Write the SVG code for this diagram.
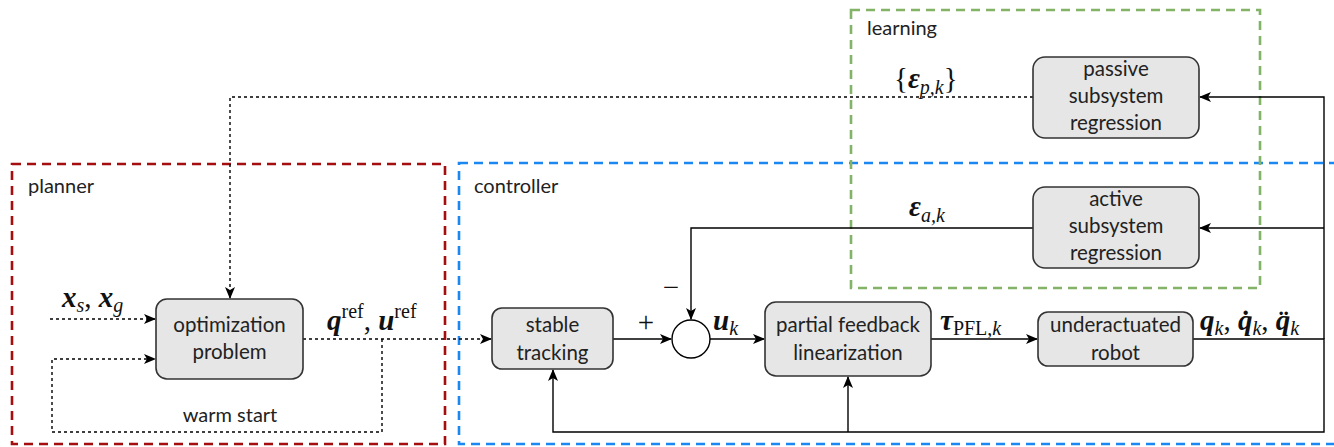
<svg xmlns="http://www.w3.org/2000/svg" width="1334" height="447" viewBox="0 0 1334 447">
<defs>
<marker id="arr" viewBox="0 0 12 10" refX="11" refY="5" markerWidth="12" markerHeight="10" markerUnits="userSpaceOnUse" orient="auto">
<path d="M0,0 L12,5 L0,10 L3,5 z" fill="#000"/>
</marker>
<style>
.box{fill:#e6e6e6;stroke:#333;stroke-width:1.6}
.t{font-family:Lato,"Open Sans","Liberation Sans",sans-serif;font-size:20.5px;fill:#222;text-anchor:middle}
.lbl{font-family:Lato,"Open Sans","Liberation Sans",sans-serif;font-size:20px;fill:#222}
.m{font-family:"Liberation Serif","DejaVu Serif",serif;font-size:29px;fill:#111}
.mb{font-weight:bold;font-style:italic}
.mi{font-style:italic}
.s{font-size:20px}
.c{fill:none;stroke:#000;stroke-width:1.4}
.d{fill:none;stroke:#000;stroke-width:1.4;stroke-dasharray:3 3}
.grp{fill:none;stroke-width:2.6;stroke-dasharray:9 6}
</style>
</defs>

<g id="groups">
<rect id="planner" class="grp" x="12" y="164" width="433" height="280" stroke="#a50e0e"/>
<rect id="controller" class="grp" x="459" y="163" width="890" height="281" stroke="#1a88f0"/>
<rect id="learning" class="grp" x="851" y="10" width="409" height="278" stroke="#82b366" stroke-width="2.2"/>
<text class="lbl" x="28" y="193">planner</text>
<text class="lbl" x="474" y="193">controller</text>
<text class="lbl" x="867" y="35">learning</text>
</g>

<g id="connectors">
<path class="d" d="M1033,97 H230 V298" marker-end="url(#arr)"/>
<path class="d" d="M50,319 H155" marker-end="url(#arr)"/>
<path class="d" d="M382,339 V432 H52 V359 H155" marker-end="url(#arr)"/>
<path class="d" d="M303,339 H491" marker-end="url(#arr)"/>
<path class="c" d="M613,339 H671" marker-end="url(#arr)"/>
<path class="c" d="M710,339 H764" marker-end="url(#arr)"/>
<path class="c" d="M931,339 H1037" marker-end="url(#arr)"/>
<path class="c" d="M1193,339 H1324 V432 H553 V370" marker-end="url(#arr)"/>
<path class="c" d="M848,432 V377" marker-end="url(#arr)"/>
<path class="c" d="M1324,339 V97 H1200" marker-end="url(#arr)"/>
<path class="c" d="M1324,228 H1200" marker-end="url(#arr)"/>
<path class="c" d="M1033,228 H691 V319" marker-end="url(#arr)"/>
</g>

<g id="labels">
<text class="m" x="62" y="307"><tspan class="mb">x</tspan><tspan class="mi s" dy="5">s</tspan><tspan dy="-5">, </tspan><tspan class="mb">x</tspan><tspan class="mi s" dy="5">g</tspan></text>
<text class="m" x="327" y="330"><tspan class="mb">q</tspan><tspan class="s" dy="-12">ref</tspan><tspan dy="12">, </tspan><tspan class="mb">u</tspan><tspan class="s" dy="-12">ref</tspan></text>
<text class="lbl" x="230" y="422" text-anchor="middle">warm start</text>
<text class="m" x="894" y="88">{<tspan class="mb">ε</tspan><tspan class="mi s" dy="6">p,k</tspan><tspan dy="-6">}</tspan></text>
<text class="m" x="909" y="216"><tspan class="mb">ε</tspan><tspan class="mi s" dy="6">a,k</tspan></text>
<text class="m" x="671" y="297" text-anchor="middle">−</text>
<text class="m" x="646" y="332" text-anchor="middle">+</text>
<text class="m" x="713" y="330"><tspan class="mb">u</tspan><tspan class="mi s" dy="5">k</tspan></text>
<text class="m" x="940" y="330"><tspan class="mb">τ</tspan><tspan class="s" dy="5">PFL,</tspan><tspan class="mi s">k</tspan></text>
<text class="m" x="1200" y="330"><tspan class="mb">q</tspan><tspan class="mi s" dy="5">k</tspan><tspan dy="-5">, </tspan><tspan class="mb">q̇</tspan><tspan class="mi s" dy="5">k</tspan><tspan dy="-5">, </tspan><tspan class="mb">q̈</tspan><tspan class="mi s" dy="5">k</tspan></text>
</g>

<g id="optimization">
<rect class="box" x="156" y="299" width="147" height="80" rx="11"/>
<text class="t" x="229.5" y="332">optimization</text>
<text class="t" x="229.5" y="359">problem</text>
</g>
<g id="stable_tracking">
<rect class="box" x="492" y="308" width="121" height="61" rx="10"/>
<text class="t" x="552.5" y="332">stable</text>
<text class="t" x="552.5" y="360">tracking</text>
</g>
<g id="sum">
<circle cx="691" cy="339" r="19" fill="#fff" stroke="#000" stroke-width="1.4"/>
</g>
<g id="pfl">
<rect class="box" x="765" y="302" width="166" height="74" rx="11"/>
<text class="t" x="848" y="332">partial feedback</text>
<text class="t" x="848" y="360">linearization</text>
</g>
<g id="robot">
<rect class="box" x="1038" y="312" width="155" height="54" rx="10"/>
<text class="t" x="1115.5" y="332">underactuated</text>
<text class="t" x="1115.5" y="360">robot</text>
</g>
<g id="passive">
<rect class="box" x="1033" y="57" width="166" height="81" rx="12"/>
<text class="t" x="1116" y="76">passive</text>
<text class="t" x="1116" y="103">subsystem</text>
<text class="t" x="1116" y="130">regression</text>
</g>
<g id="active">
<rect class="box" x="1033" y="187" width="166" height="81" rx="12"/>
<text class="t" x="1116" y="206">active</text>
<text class="t" x="1116" y="233">subsystem</text>
<text class="t" x="1116" y="260">regression</text>
</g>
</svg>
